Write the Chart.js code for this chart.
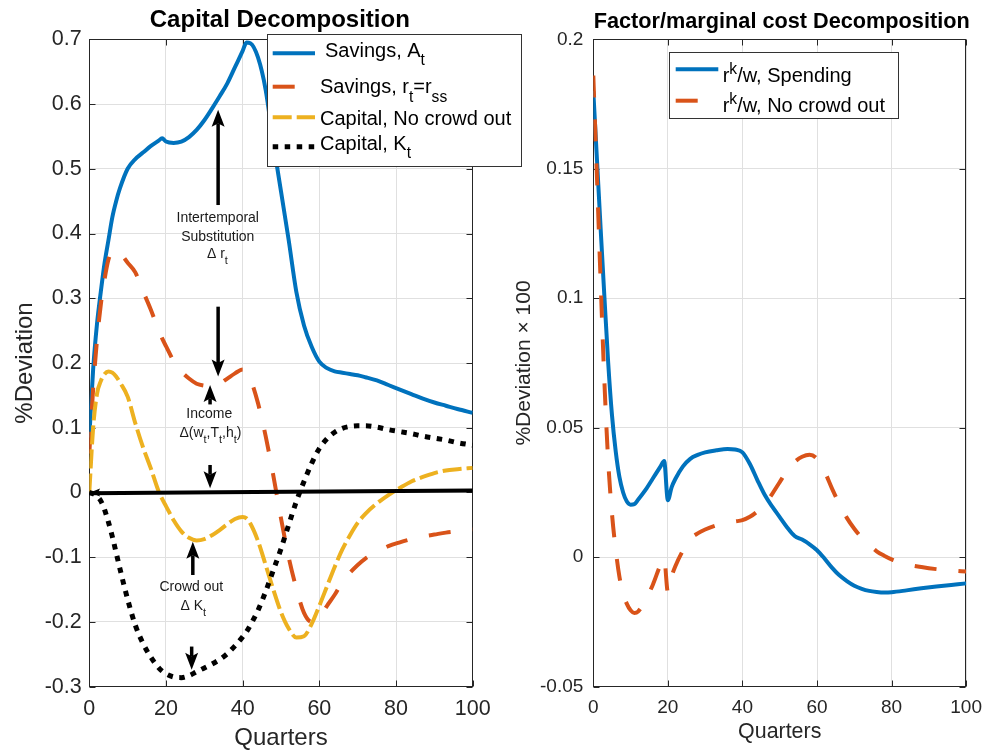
<!DOCTYPE html>
<html><head><meta charset="utf-8">
<script src="https://cdn.jsdelivr.net/npm/chart.js@4.4.1/dist/chart.umd.min.js"></script>
<style>
html,body{margin:0;padding:0;background:#fff;width:992px;height:754px;overflow:hidden;}
#wrap{position:relative;width:992px;height:754px;background:#fff;}
canvas{position:absolute;top:0;}
#cL{left:0;z-index:2;}
#cR{left:496px;z-index:1;}
</style></head><body>
<div id="wrap"><canvas id="cL" width="540" height="754" style="width:540px;height:754px"></canvas><canvas id="cR" width="496" height="754" style="width:496px;height:754px"></canvas></div>
<script>
// ---------------- DATA ----------------
const quartersL = [0,1,2,3,4,5,6,7,8,10,12,14,16,18,19,20,22,24,26,28,30,32,34,36,38,40,41,42,44,46,48,50,52,54,56,58,60,62,64,66,68,70,72,75,78,81,84,87,90,93,96,100];
const savingsA = [0.085,0.19,0.26,0.31,0.355,0.39,0.425,0.45,0.47,0.50,0.515,0.525,0.535,0.543,0.547,0.542,0.540,0.542,0.549,0.56,0.575,0.593,0.612,0.632,0.657,0.682,0.695,0.694,0.672,0.622,0.54,0.465,0.39,0.31,0.258,0.225,0.202,0.192,0.187,0.185,0.183,0.181,0.178,0.173,0.166,0.159,0.152,0.145,0.139,0.134,0.129,0.123];
const savingsRss = [0.06,0.16,0.235,0.29,0.33,0.36,0.372,0.374,0.37,0.355,0.34,0.311,0.283,0.252,0.238,0.226,0.203,0.187,0.176,0.168,0.165,0.164,0.168,0.176,0.184,0.19,0.187,0.176,0.138,0.087,0.026,-0.04,-0.1,-0.148,-0.186,-0.2,-0.193,-0.175,-0.158,-0.138,-0.124,-0.112,-0.102,-0.092,-0.083,-0.077,-0.072,-0.068,-0.065,-0.062,-0.06,-0.057];
const capitalNoCrowd = [0.0,0.1,0.152,0.172,0.183,0.187,0.185,0.179,0.17,0.148,0.107,0.07,0.038,0.003,-0.01,-0.021,-0.043,-0.06,-0.07,-0.074,-0.072,-0.066,-0.058,-0.049,-0.041,-0.038,-0.04,-0.048,-0.075,-0.112,-0.15,-0.185,-0.21,-0.224,-0.222,-0.203,-0.175,-0.145,-0.115,-0.088,-0.066,-0.047,-0.033,-0.017,-0.004,0.007,0.017,0.024,0.03,0.034,0.036,0.038];
const capitalK = [0,-0.002,-0.006,-0.013,-0.027,-0.046,-0.068,-0.093,-0.118,-0.165,-0.205,-0.233,-0.254,-0.27,-0.276,-0.28,-0.285,-0.286,-0.283,-0.277,-0.271,-0.265,-0.258,-0.249,-0.237,-0.223,-0.215,-0.205,-0.182,-0.153,-0.12,-0.087,-0.05,-0.014,0.017,0.045,0.068,0.083,0.093,0.099,0.102,0.103,0.103,0.101,0.097,0.094,0.091,0.087,0.084,0.081,0.077,0.073];
const zeroQuarters = [0,100];
const zeroLine = [-0.001,0.003];

const quartersR = [0,1,2,3,4,5,6,7,8,9,10,11,12,14,16,18,19,20,21,22,24,26,28,30,33,36,38,40,42,44,46,48,50,52,54,56,58,60,62,64,66,68,70,72,74,76,78,80,84,88,92,96,100];
const rkwSpending = [0.18,0.153,0.126,0.1,0.075,0.055,0.041,0.031,0.025,0.0215,0.0203,0.0205,0.0222,0.026,0.0305,0.035,0.0372,0.022,0.027,0.0302,0.035,0.038,0.0395,0.0405,0.0413,0.0418,0.0416,0.0405,0.036,0.0298,0.024,0.0195,0.0155,0.0115,0.0082,0.0068,0.005,0.0027,-0.0005,-0.004,-0.007,-0.0092,-0.011,-0.0122,-0.013,-0.0134,-0.0136,-0.0135,-0.0128,-0.012,-0.0113,-0.0107,-0.0101];
const rkwNoCrowd = [0.186,0.146,0.105,0.067,0.037,0.017,0.003,-0.0075,-0.014,-0.018,-0.0205,-0.0215,-0.021,-0.0165,-0.0105,-0.003,-0.0005,-0.0135,-0.0075,-0.0035,0.0025,0.007,0.0092,0.0107,0.0123,0.0133,0.0138,0.0143,0.0156,0.0177,0.0205,0.0245,0.029,0.0335,0.0368,0.0388,0.0396,0.038,0.0332,0.0266,0.0205,0.0152,0.011,0.0075,0.0047,0.0023,0.0006,-0.0008,-0.0027,-0.0038,-0.0046,-0.0051,-0.0055];

const xTicks = [0,20,40,60,80,100];
const yTicksL = [-0.3,-0.2,-0.1,0,0.1,0.2,0.3,0.4,0.5,0.6,0.7];
const yTicksR = [-0.05,0,0.05,0.1,0.15,0.2];

// annotation arrows (data coordinates, left panel)
const arrowFromQ = [33.6,33.6,31.5,31.5,27.0,26.7,2.9];
const arrowFromV = [0.444,0.287,0.136,0.0425,-0.1275,-0.238,0.0];
const arrowToQ   = [33.6,33.6,31.5,31.5,27.0,26.7,0.2];
const arrowToV   = [0.591,0.179,0.166,0.0065,-0.076,-0.274,0.0];
const noteQ = [33.5,33.5,33.4,31.3,31.6,26.6,27.1];
const noteV = [0.418,0.389,0.362,0.1146,0.0862,-0.1517,-0.1815];
const noteText = [
  [{t:'Intertemporal'}],
  [{t:'Substitution'}],
  [{t:'\u0394 r'},{t:'t',sub:1}],
  [{t:'Income'}],
  [{t:'\u0394(w'},{t:'t',sub:1},{t:',T'},{t:'t',sub:1},{t:',h'},{t:'t',sub:1},{t:')'}],
  [{t:'Crowd out'}],
  [{t:'\u0394 K'},{t:'t',sub:1}]
];

// ---------------- HELPERS ----------------
const FONT = "'Liberation Sans', Arial, Helvetica, sans-serif";
const AX = '#262626';
const GRID = '#e0e0e0';
const BLUE = '#0072BD', ORANGE = '#D95319', YELLOW = '#EDB120', BLACK = '#000000';
const pts = (xs, ys) => xs.map((x, i) => ({x: x, y: ys[i]}));
const fmt = v => String(Math.round(v * 1000) / 1000);

function richWidth(ctx, segs, size) {
  let w = 0;
  for (const s of segs) {
    const fs = (s.sub || s.sup) ? size * 0.78 : size;
    ctx.font = fs + 'px ' + FONT;
    w += ctx.measureText(s.t).width;
  }
  return w;
}
function drawRich(ctx, segs, x, y, size, align) {
  const w = richWidth(ctx, segs, size);
  let cx = align === 'center' ? x - w / 2 : x;
  ctx.textAlign = 'left';
  ctx.textBaseline = 'alphabetic';
  for (const s of segs) {
    const fs = (s.sub || s.sup) ? size * 0.78 : size;
    ctx.font = fs + 'px ' + FONT;
    const dy = s.sub ? size * 0.42 : (s.sup ? -size * 0.39 : 0);
    ctx.fillText(s.t, cx, y + dy);
    cx += ctx.measureText(s.t).width;
  }
}
function arrow(ctx, x0, y0, x1, y1, hl, hw, lw) {
  const a = Math.atan2(y1 - y0, x1 - x0);
  const c = Math.cos(a), s = Math.sin(a);
  const bx = x1 - hl * c, by = y1 - hl * s;
  const nx = x1 - hl * 0.8 * c, ny = y1 - hl * 0.8 * s;
  ctx.lineWidth = lw;
  ctx.lineCap = 'butt';
  const len = Math.hypot(x1 - x0, y1 - y0);
  if (len > hl * 0.8) {
    ctx.beginPath(); ctx.moveTo(x0, y0); ctx.lineTo(nx, ny); ctx.stroke();
  }
  ctx.beginPath();
  ctx.moveTo(x1, y1);
  ctx.lineTo(bx + hw / 2 * s, by - hw / 2 * c);
  ctx.lineTo(nx, ny);
  ctx.lineTo(bx - hw / 2 * s, by + hw / 2 * c);
  ctx.closePath();
  ctx.fill();
}

const boxPlugin = {
  id: 'matBox',
  beforeDatasetsDraw(chart) {
    const {ctx, chartArea: a, scales: {x, y}} = chart;
    ctx.save();
    ctx.strokeStyle = AX; ctx.lineWidth = 1;
    const L = Math.round(a.left) + 0.5, R = Math.round(a.right) - 0.5, T = Math.round(a.top) + 0.5, B = Math.round(a.bottom) - 0.5;
    ctx.strokeRect(L, T, R - L, B - T);
    const tl = 6;
    ctx.beginPath();
    x.ticks.forEach(t => {
      const px = Math.round(x.getPixelForValue(t.value)) + 0.5;
      ctx.moveTo(px, B); ctx.lineTo(px, B - tl);
      ctx.moveTo(px, T); ctx.lineTo(px, T + tl);
    });
    y.ticks.forEach(t => {
      const py = Math.round(y.getPixelForValue(t.value)) + 0.5;
      ctx.moveTo(L, py); ctx.lineTo(L + tl, py);
      ctx.moveTo(R, py); ctx.lineTo(R - tl, py);
    });
    ctx.stroke();
    ctx.restore();
  }
};

function titlePlugin(text, cx, base, size) {
  return {
    id: 'matTitle',
    afterDraw(chart) {
      const ctx = chart.ctx;
      ctx.save();
      ctx.fillStyle = '#000';
      ctx.font = 'bold ' + size + 'px ' + FONT;
      ctx.textAlign = 'center'; ctx.textBaseline = 'alphabetic';
      ctx.fillText(text, cx, base);
      ctx.restore();
    }
  };
}

const notesPlugin = {
  id: 'notes',
  afterDatasetsDraw(chart) {
    const {ctx, scales: {x, y}} = chart;
    ctx.save();
    ctx.fillStyle = '#000'; ctx.strokeStyle = '#000';
    for (let i = 0; i < arrowFromQ.length; i++) {
      const small = i === arrowFromQ.length - 1;
      arrow(ctx, x.getPixelForValue(arrowFromQ[i]), y.getPixelForValue(arrowFromV[i]),
            x.getPixelForValue(arrowToQ[i]), y.getPixelForValue(arrowToV[i]),
            small ? 10 : 17, small ? 8 : 13, small ? 2 : 3.5);
    }
    ctx.fillStyle = '#1a1a1a';
    for (let i = 0; i < noteQ.length; i++) {
      drawRich(ctx, noteText[i], x.getPixelForValue(noteQ[i]), y.getPixelForValue(noteV[i]), 14, 'center');
    }
    ctx.restore();
  }
};

function legendPlugin(box, rows) {
  return {
    id: 'matLegend',
    afterDraw(chart) {
      const ctx = chart.ctx;
      ctx.save();
      ctx.fillStyle = '#fff';
      ctx.fillRect(box[0], box[1], box[2] - box[0], box[3] - box[1]);
      ctx.strokeStyle = '#333'; ctx.lineWidth = 1;
      ctx.strokeRect(Math.round(box[0]) + 0.5, Math.round(box[1]) + 0.5, Math.round(box[2] - box[0]), Math.round(box[3] - box[1]));
      rows.forEach(r => {
        const ds = chart.data.datasets[r.ds];
        ctx.strokeStyle = ds.borderColor; ctx.lineWidth = ds.borderWidth;
        ctx.lineCap = 'butt';
        ctx.setLineDash(ds.borderDash || []);
        ctx.beginPath(); ctx.moveTo(r.x0, r.ly); ctx.lineTo(r.x1, r.ly); ctx.stroke();
        ctx.setLineDash([]);
        ctx.fillStyle = '#000';
        drawRich(ctx, r.segs, r.tx, r.ty, 20, 'left');
      });
      ctx.restore();
    }
  };
}

function axisOpts(min, max, ticksArr, fit, tickSize, pad, title, titleSize, titlePad) {
  return {
    type: 'linear', min: min, max: max,
    afterBuildTicks: s => { s.ticks = ticksArr.map(v => ({value: v})); },
    afterFit: fit,
    grid: {color: GRID, lineWidth: 1, drawTicks: false},
    border: {display: false},
    ticks: {padding: pad, font: {family: FONT, size: tickSize}, color: AX, maxRotation: 0, autoSkip: false, callback: v => fmt(v)},
    title: {display: true, text: title, font: {family: FONT, size: titleSize}, color: AX, padding: titlePad}
  };
}

const common = {
  responsive: false, animation: false, devicePixelRatio: 1,
  elements: {point: {radius: 0}, line: {cubicInterpolationMode: 'monotone', borderCapStyle: 'butt', borderJoinStyle: 'round', fill: false}},
  plugins: {legend: {display: false}, tooltip: {enabled: false}}
};

// ---------------- LEFT PANEL ----------------
new Chart(document.getElementById('cL'), {
  type: 'line',
  data: {datasets: [
    {label: 'Savings, A_t', data: pts(quartersL, savingsA), borderColor: BLUE, borderWidth: 4, order: 5},
    {label: 'Savings, r_t=r_ss', data: pts(quartersL, savingsRss), borderColor: ORANGE, borderWidth: 4, borderDash: [22, 22], order: 4},
    {label: 'Capital, No crowd out', data: pts(quartersL, capitalNoCrowd), borderColor: YELLOW, borderWidth: 4, borderDash: [19, 5], order: 3},
    {label: 'Capital, K_t', data: pts(quartersL, capitalK), borderColor: BLACK, borderWidth: 5, borderDash: [5.5, 6.5], order: 2},
    {label: 'zero', data: pts(zeroQuarters, zeroLine), borderColor: BLACK, borderWidth: 4, order: 1}
  ]},
  options: Object.assign({}, common, {
    layout: {padding: {top: 39.3, right: 540 - 472.7, left: 0, bottom: 0}},
    scales: {
      x: axisOpts(0, 100, xTicks, s => { s.height = 67.3; }, 21.5, 9, 'Quarters', 24, {top: 0, bottom: 1}),
      y: axisOpts(-0.3, 0.7, yTicksL, s => { s.width = 89.3; }, 21.5, 7.6, '%Deviation', 24, {top: 10.6, bottom: 0})
    }
  }),
  plugins: [boxPlugin, notesPlugin, titlePlugin('Capital Decomposition', 279.8, 27.3, 24),
    legendPlugin([267.3, 34.3, 521, 166.7], [
      {ds: 0, x0: 272.7, x1: 315, ly: 53.3, tx: 325, ty: 56.7, segs: [{t: 'Savings, A'}, {t: 't', sub: 1}]},
      {ds: 1, x0: 272.7, x1: 315, ly: 86.7, tx: 320, ty: 93.3, segs: [{t: 'Savings, r'}, {t: 't', sub: 1}, {t: '=r'}, {t: 'ss', sub: 1}]},
      {ds: 2, x0: 272.7, x1: 315, ly: 117.3, tx: 320, ty: 125, segs: [{t: 'Capital, No crowd out'}]},
      {ds: 3, x0: 272.7, x1: 315, ly: 146.7, tx: 320, ty: 149.5, segs: [{t: 'Capital, K'}, {t: 't', sub: 1}]}
    ])]
});

// ---------------- RIGHT PANEL ----------------
new Chart(document.getElementById('cR'), {
  type: 'line',
  data: {datasets: [
    {label: 'r^k/w, Spending', data: pts(quartersR, rkwSpending), borderColor: BLUE, borderWidth: 4, order: 2},
    {label: 'r^k/w, No crowd out', data: pts(quartersR, rkwNoCrowd), borderColor: ORANGE, borderWidth: 4, borderDash: [22, 22], order: 1}
  ]},
  options: Object.assign({}, common, {
    layout: {padding: {top: 39.3, right: 17, left: 0, bottom: 0}},
    scales: {
      x: axisOpts(0, 100, xTicks, s => { s.height = 67.3; }, 19, 10, 'Quarters', 21.4, {top: 0, bottom: 8.6}),
      y: axisOpts(-0.05, 0.2, yTicksR, s => { s.width = 97.3; }, 19, 10, '%Deviation \u00d7 100', 21, {top: 15.8, bottom: 0})
    }
  }),
  plugins: [boxPlugin, titlePlugin('Factor/marginal cost Decomposition', 285.7, 28.3, 21.7),
    legendPlugin([173.3, 52, 402.3, 118.3], [
      {ds: 0, x0: 179.7, x1: 222.3, ly: 69.3, tx: 226.7, ty: 81.7, segs: [{t: 'r'}, {t: 'k', sup: 1}, {t: '/w, Spending'}]},
      {ds: 1, x0: 179.7, x1: 222.3, ly: 100.7, tx: 226.7, ty: 111.7, segs: [{t: 'r'}, {t: 'k', sup: 1}, {t: '/w, No crowd out'}]}
    ])]
});
</script>
</body></html>
